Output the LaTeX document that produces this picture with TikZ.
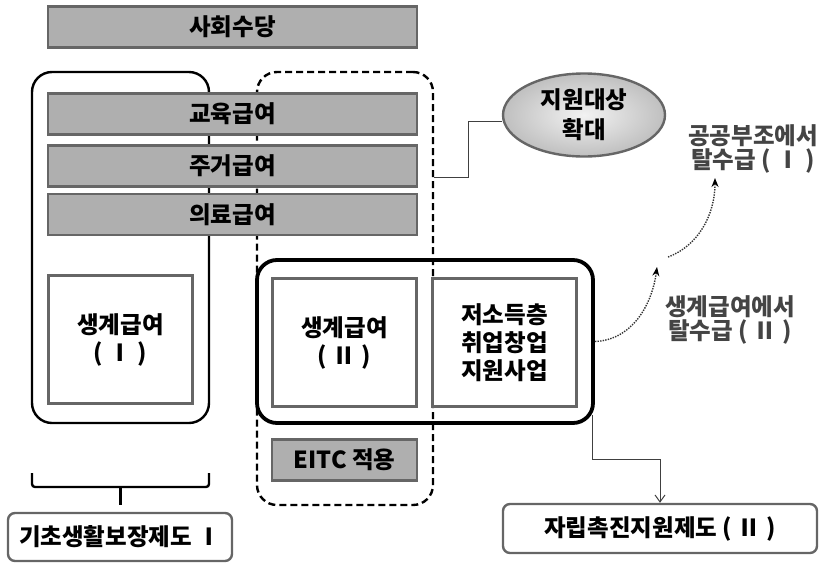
\documentclass[tikz,border=0pt]{standalone}
\usepackage{fontspec}
\setmainfont{Noto Sans CJK KR}
\usetikzlibrary{shapes.geometric,arrows.meta}
\definecolor{barfill}{HTML}{AFAFAF}
\definecolor{barline}{HTML}{666666}
\definecolor{lblgray}{HTML}{444444}
\begin{document}
\begin{tikzpicture}[x=1pt,y=-1pt,
  every node/.style={font=\fontsize{23.5}{28}\selectfont\bfseries, inner sep=0pt, align=center},
  bar/.style={draw=barline, fill=barfill, line width=2.6pt, minimum height=41pt},
  whitebox/.style={draw=barline, fill=white, line width=2.6pt, minimum width=144pt, minimum height=128pt},
  container/.style={draw=black, rounded corners=20pt, minimum width=#1},
  lbl/.style={text=lblgray, font=\fontsize{23.5}{24}\selectfont\bfseries},
  dcurve/.style={draw=black!80, dash pattern=on 1.4pt off 1.2pt, line width=1.4pt, -{Stealth[length=9pt,width=7pt,black]}},
  thinline/.style={draw=black!75, line width=1pt}
]
\useasboundingbox (0,0) rectangle (826,562);
% containers
\node[container=177pt, minimum height=351pt, line width=2.4pt] (leftc) at (120.5,247.5) {};
\node[container=176pt, minimum height=433pt, line width=2.4pt, dash pattern=on 7pt off 4pt] (dashc) at (345,288.5) {};
% bars
\node[bar, minimum width=369pt] (sw) at (232.5,27) {사회수당};
\node[bar, minimum width=369pt] (edu) at (232.5,114) {교육급여};
\node[bar, minimum width=369pt] (house) at (232.5,166) {주거급여};
\node[bar, minimum width=369pt] (med) at (232.5,214.5) {의료급여};
% left livelihood
\node[whitebox] (liv1) at (120.5,339.5) {생계급여\\( Ⅰ )};
% bold container
\node[container=336pt, minimum height=163pt, line width=3.8pt] (boldc) at (425,341.5) {};
\node[whitebox] (liv2) at (344.5,342.5) {생계급여\\( Ⅱ )};
\node[whitebox] (low) at (504.5,342.5) {저소득층\\취업창업\\지원사업};
\node[bar, minimum width=145pt] (eitc) at (344.5,460) {EITC 적용};
% ellipse
\node[ellipse, draw=barline, line width=2.4pt, inner color=gray!10, outer color=gray!50, minimum width=162pt, minimum height=83pt, font=\fontsize{23.5}{30}\selectfont\bfseries] (ell) at (584,115) {지원대상\\확대};
\coordinate (ej) at (468,177);
\draw[thinline] ([yshift=-6pt]ell.west) -| (ej) -- (ej -| dashc.east);
% labels
\node[lbl] (l1) at (753,149) {공공부조에서\\탈수급 ( Ⅰ )};
\node[lbl] (l2) at (730,320) {생계급여에서\\탈수급 ( Ⅱ )};
% dotted curves
\coordinate (c1e) at (657,267);
\coordinate (c2s) at (668,257);
\coordinate (c2e) at (715,178);
\draw[dcurve] (boldc.east) .. controls (632,340) and (652,305) .. (c1e);
\draw[dcurve] (c2s) .. controls (698,246) and (715,215) .. (c2e);
% brace
\draw[line width=2.4pt, rounded corners=3pt] (32,473) -- (32,487) -- (209,487) -- (209,473);
\draw[line width=2.4pt] (120.5,487) -- (120.5,505);
% bottom boxes
\node[draw=barline, line width=2.4pt, rounded corners=7pt, minimum width=224pt, minimum height=48pt] (basic) at (120,537) {기초생활보장제도 Ⅰ};
\node[draw=barline, line width=2.4pt, rounded corners=7pt, minimum width=314pt, minimum height=49pt] (selfr) at (660,528.5) {자립촉진지원제도 ( Ⅱ )};
\coordinate (bs) at (592,415);
\draw[thinline, -{Straight Barb[length=7pt,width=10pt]}] (bs) -- (bs |- 0,459) -| (selfr.north);
\end{tikzpicture}
\end{document}
